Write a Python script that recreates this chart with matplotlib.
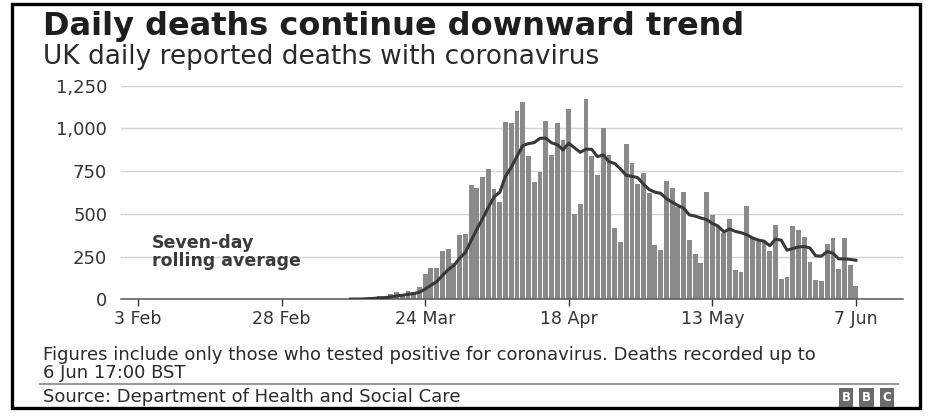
import pandas as pd
import matplotlib
matplotlib.use("Agg")
import matplotlib.pyplot as plt
import matplotlib.dates as mdates
from matplotlib.patches import Rectangle
from matplotlib.lines import Line2D

# daily reported deaths, 5 Mar -> 7 Jun 2020
start_date = "2020-03-05"
deaths = [
    1, 1, 0, 1, 1, 2, 2, 2, 6, 10, 14, 20, 16, 30, 40, 33, 50, 45, 74,  # 5-23 Mar
    149, 186, 183, 284, 294, 214, 374, 382,                              # 24-31 Mar
    670, 652, 714, 760, 644, 568, 1038, 1034, 1103, 1152,                # 1-10 Apr
    839, 686, 744, 1044, 842, 1029, 935, 1115, 498, 559,                 # 11-20 Apr
    1172, 837, 727, 1005, 843, 420, 338, 909, 795, 674,                  # 21-30 Apr
    739, 621, 315, 288, 693, 649, 539, 626, 346, 268,                    # 1-10 May
    210, 627, 494, 428, 386, 468, 169, 157, 546, 360,                    # 11-20 May
    342, 340, 280, 437, 119, 133, 428, 405, 362, 220, 113,               # 21-31 May
    108, 323, 357, 176, 356, 202, 76,                                    # 1-7 Jun
]

tick_dates = ["2020-02-03", "2020-02-28", "2020-03-24", "2020-04-18", "2020-05-13", "2020-06-07"]
tick_labels = ["3 Feb", "28 Feb", "24 Mar", "18 Apr", "13 May", "7 Jun"]
y_ticks = [0, 250, 500, 750, 1000, 1250]

TITLE = "Daily deaths continue downward trend"
SUBTITLE = "UK daily reported deaths with coronavirus"
NOTE = ("Figures include only those who tested positive for coronavirus. Deaths recorded up to\n"
        "6 Jun 17:00 BST")
SOURCE = "Source: Department of Health and Social Care"

BAR = "#8a8a8a"
LINE = "#383838"
TEXT = "#1e1e1e"

plt.rcParams["font.family"] = ["DejaVu Sans"]

dates = pd.date_range(start_date, periods=len(deaths), freq="D")
rolling = pd.Series(deaths, index=dates).rolling(7).mean()

W, H = 947, 420
fig = plt.figure(figsize=(W / 100, H / 100), dpi=100)
fig.patch.set_facecolor("white")

ax = fig.add_axes([121 / W, (H - 299.3) / H, (903 - 121) / W, (299.3 - 85.7) / H])
ax.bar(dates, deaths, width=0.84, color=BAR, zorder=2)
ax.plot(rolling.index, rolling.values, color=LINE, lw=2.2, zorder=3)

x0 = mdates.date2num(pd.Timestamp("2020-02-03")) - 2.96
x1 = mdates.date2num(pd.Timestamp("2020-06-07")) + 8.2
ax.set_xlim(x0, x1)
ax.set_ylim(0, 1250)

ax.set_yticks(y_ticks)
ax.set_yticklabels([f"{v:,}" for v in y_ticks])
ax.set_xticks(pd.to_datetime(tick_dates))
ax.set_xticklabels(tick_labels)
ax.tick_params(axis="y", length=0, pad=10, labelsize=13, labelcolor="#333333")
ax.tick_params(axis="x", length=5, width=1, color="#333333", pad=3,
               labelsize=12.5, labelcolor="#333333")

for s in ["top", "right", "left"]:
    ax.spines[s].set_visible(False)
ax.spines["bottom"].set_color("#555555")
ax.spines["bottom"].set_linewidth(1.1)
ax.grid(axis="y", color="#d4d4d4", lw=1.0, zorder=0)
ax.set_axisbelow(True)

ax.text(mdates.date2num(pd.Timestamp("2020-02-05")) + 0.4, 277, "Seven-day\nrolling average",
        fontsize=12.5, fontweight="bold", color="#3a3a3a", va="center", ha="left",
        linespacing=1.0, zorder=4)

# header
fig.text(43 / W, 1 - 26 / H, TITLE, fontsize=23, fontweight="bold", color=TEXT, va="center")
fig.text(43 / W, 1 - 57 / H, SUBTITLE, fontsize=19, color="#2a2a2a", va="center")

# footer
fig.text(43 / W, 1 - 364 / H, NOTE, fontsize=13, color="#2a2a2a", va="center", linespacing=1.05)
fig.add_artist(Line2D([40 / W, 898 / W], [1 - 384 / H, 1 - 384 / H],
                      color="#9a9a9a", lw=1.5, transform=fig.transFigure))
fig.text(43 / W, 1 - 397 / H, SOURCE, fontsize=13, color="#2a2a2a", va="center")

for i, letter in enumerate("BBC"):
    fig.text((846 + i * 20.5) / W, 1 - 397.5 / H, letter, fontsize=8.5, fontweight="bold",
             color="white", ha="center", va="center",
             bbox=dict(boxstyle="square,pad=0.25", fc="#6a6a6a", ec="none"))

# outer frame
fig.add_artist(Rectangle((12 / W, 1 - 408 / H), (920 - 12) / W, (408 - 4) / H,
                         transform=fig.transFigure, fill=False, ec="black", lw=2.4))

fig.savefig("out.png", dpi=100, facecolor="white")
